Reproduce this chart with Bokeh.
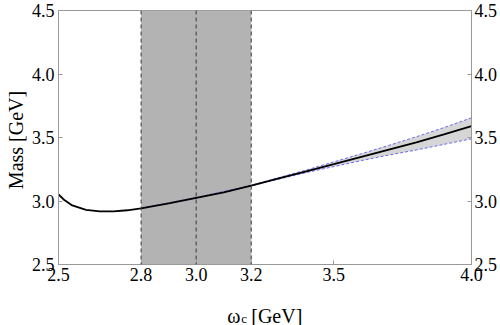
from bokeh.plotting import figure
from bokeh.layouts import column
from bokeh.models import (BoxAnnotation, Span, LinearAxis, FixedTicker, Range1d)
from bokeh.core.properties import value
from bokeh.embed import file_html
from bokeh.resources import INLINE

# ---- data ----
x_curve = [2.50, 2.52, 2.55, 2.60, 2.65, 2.70, 2.75, 2.80, 2.90, 3.00,
           3.10, 3.20, 3.30, 3.40, 3.50, 3.60, 3.70, 3.80, 3.90, 4.00]
y_curve = [3.051, 3.010, 2.965, 2.930, 2.918, 2.918, 2.927, 2.942, 2.982, 3.025,
           3.068, 3.122, 3.178, 3.234, 3.290, 3.348, 3.405, 3.462, 3.525, 3.590]

x_err = [2.80, 3.00, 3.20, 3.40, 3.50, 3.60, 3.70, 3.80, 3.90, 4.00]
y_upper = [2.944, 3.027, 3.124, 3.244, 3.308, 3.372, 3.438, 3.506, 3.578, 3.655]
y_lower = [2.940, 3.023, 3.120, 3.224, 3.271, 3.318, 3.362, 3.402, 3.446, 3.490]

window_lo = 2.8
window_hi = 3.2
dashed_x = [2.8, 3.0, 3.2]

x_ticks = [2.5, 2.8, 3.0, 3.2, 3.5, 4.0]
x_tick_labels = ["2.5", "2.8", "3.0", "3.2", "3.5", "4.0"]
y_ticks = [2.5, 3.0, 3.5, 4.0, 4.5]
y_tick_labels = ["2.5", "3.0", "3.5", "4.0", "4.5"]

x_label_sym = "ω"
x_label_sub = "c"
x_label_unit = "[GeV]"
y_label = "Mass  [GeV]"

FONT = "Liberation Serif"
AX = "#999999"

p = figure(width=500, frame_width=413, frame_height=254,
           x_range=Range1d(2.5, 4.0), y_range=Range1d(2.5, 4.5),
           output_backend="svg", toolbar_location=None,
           min_border_left=58, min_border_right=29,
           min_border_top=10, min_border_bottom=32)
p.grid.visible = False
p.outline_line_color = AX
p.background_fill_color = "white"
p.border_fill_color = "white"

def style_axis(ax, ticks, labels):
    ax.ticker = FixedTicker(ticks=ticks)
    ax.major_label_overrides = {t: l for t, l in zip(ticks, labels)}
    ax.major_tick_in = 4
    ax.major_tick_out = 0
    ax.minor_tick_in = 0
    ax.minor_tick_out = 0
    ax.axis_line_color = AX
    ax.major_tick_line_color = AX
    ax.major_label_text_font = FONT
    ax.major_label_text_font_size = "18px"
    ax.major_label_text_color = "black"
    ax.major_label_standoff = 3

style_axis(p.xaxis[0], x_ticks, x_tick_labels)
style_axis(p.yaxis[0], y_ticks, y_tick_labels)
p.yaxis[0].major_label_standoff = 4
p.yaxis[0].axis_label = y_label
p.yaxis[0].axis_label_text_font = FONT
p.yaxis[0].axis_label_text_font_size = "20px"
p.yaxis[0].axis_label_text_font_style = "normal"
p.yaxis[0].axis_label_text_color = "black"
p.yaxis[0].axis_label_standoff = 2
right = LinearAxis()
style_axis(right, y_ticks, y_tick_labels)
p.add_layout(right, "right")

# shaded window
p.add_layout(BoxAnnotation(left=window_lo, right=window_hi, fill_color="#b3b3b3",
                           fill_alpha=1.0, line_alpha=0, level="underlay"))

# uncertainty band beyond the window
i0 = x_err.index(window_hi)
p.varea(x=x_err[i0:], y1=y_lower[i0:], y2=y_upper[i0:], fill_color="#d6d6d6")
p.line(x_err, y_upper, line_color="#6a6af2", line_dash="3 2", line_width=1)
p.line(x_err, y_lower, line_color="#6a6af2", line_dash="3 2", line_width=1)

# central curve
p.line(x_curve, y_curve, line_color="black", line_width=1.8)

for xv in dashed_x:
    p.add_layout(Span(location=xv, dimension="height", line_color="#444444",
                      line_dash="4 3", line_width=1.1))

# x-axis title strip (omega with subscript c), aligned with the main frame
q = figure(width=500, frame_width=413, frame_height=29,
           x_range=p.x_range, y_range=Range1d(0, 29),
           output_backend="svg", toolbar_location=None,
           min_border_left=58, min_border_right=29, min_border_top=0, min_border_bottom=0)
q.axis.visible = False
q.grid.visible = False
q.outline_line_color = None
q.background_fill_color = "white"
q.border_fill_color = "white"
q.text(x=[3.2], y=[10], text=[x_label_sym], x_offset=-24, text_font=value(FONT),
       text_font_size="20px", text_align="left", text_baseline="alphabetic", text_color="black")
q.text(x=[3.2], y=[7], text=[x_label_sub], x_offset=-10, text_font=value(FONT),
       text_font_size="13px", text_align="left", text_baseline="alphabetic", text_color="black")
q.text(x=[3.2], y=[10], text=[x_label_unit], x_offset=0, text_font=value(FONT),
       text_font_size="20px", text_align="left", text_baseline="alphabetic", text_color="black")

layout = column(p, q, spacing=0)
open("out.html", "w").write(file_html(layout, INLINE))
